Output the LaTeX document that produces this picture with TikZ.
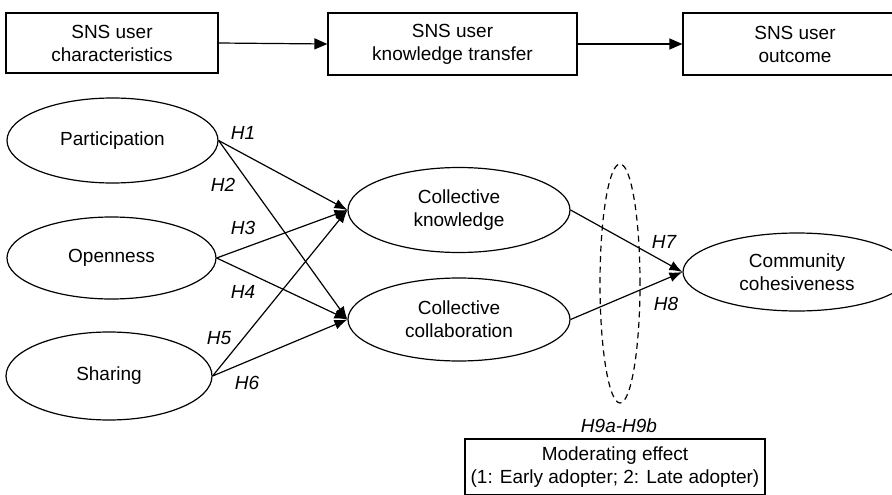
\documentclass[tikz,border=0pt]{standalone}
\usepackage{fontspec}
\setmainfont{Liberation Sans}
\usetikzlibrary{shapes.geometric,arrows.meta}
\begin{document}
\begin{tikzpicture}[x=1pt,y=-1pt,
  line width=1.2pt,
  txt/.style={font=\fontsize{19}{23}\selectfont, align=center},
  boxnode/.style={txt, draw, rectangle, inner sep=0pt},
  ellnode/.style={txt, draw, ellipse, inner sep=0pt},
  hlab/.style={font=\fontsize{19}{23}\selectfont\itshape, inner sep=0pt},
  toparrow/.style={-{Triangle[length=13pt,width=11pt]}},
  patharrow/.style={-{Latex[length=13pt,width=10pt]}}
]
\useasboundingbox (0,0) rectangle (892,495);
% top boxes
\node[boxnode, minimum width=212pt, minimum height=60pt] (b1) at (112,43) {SNS user\\characteristics};
\node[boxnode, minimum width=249pt, minimum height=62pt] (b2) at (452.5,44) {SNS user\\knowledge transfer};
\node[boxnode, minimum width=224pt, minimum height=62pt] (b3) at (795,44) {SNS user\\outcome};
\draw[toparrow] (b1.east) -- (b2.west);
\draw[toparrow] (b2.east) -- (b3.west);
% left ellipses
\node[ellnode, minimum width=211pt, minimum height=85pt] (par) at (112.5,140.5) {Participation};
\node[ellnode, minimum width=209pt, minimum height=82pt] (ope) at (111.5,258) {Openness};
\node[ellnode, minimum width=206pt, minimum height=88pt] (sha) at (109,376) {Sharing};
% middle ellipses
\node[ellnode, minimum width=222pt, minimum height=85pt] (ck) at (459,210) {Collective\\knowledge};
\node[ellnode, minimum width=222pt, minimum height=83pt] (cc) at (459,319.5) {Collective\\collaboration};
% right ellipse
\node[ellnode, minimum width=228pt, minimum height=78pt] (com) at (797,272) {Community\\cohesiveness};
% dashed moderating ellipse
\node[draw, dash pattern=on 6pt off 4.5pt, ellipse, minimum width=40pt, minimum height=239pt, inner sep=0pt] (mod) at (620,283.5) {};
% moderating box
\node[boxnode, minimum width=300pt, minimum height=56pt] (mbox) at (615,467) {Moderating effect\\(1: Early adopter; 2: Late adopter)};
% paths
\draw[patharrow] (par.east) -- (ck.west);
\draw[patharrow] (par.east) -- (cc.west);
\draw[patharrow] (ope.east) -- (ck.west);
\draw[patharrow] (ope.east) -- (cc.west);
\draw[patharrow] (sha.east) -- (ck.west);
\draw[patharrow] (sha.east) -- (cc.west);
\draw[patharrow] (ck.east) -- (com.west);
\draw[patharrow] (cc.east) -- (com.west);
% labels
\node[hlab] (h1) at (243,133) {H1};
\node[hlab] (h2) at (223,185) {H2};
\node[hlab] (h3) at (243,228) {H3};
\node[hlab] (h4) at (243,292) {H4};
\node[hlab] (h5) at (219,338) {H5};
\node[hlab] (h6) at (247,383) {H6};
\node[hlab] (h7) at (664,242) {H7};
\node[hlab] (h8) at (666,304) {H8};
\node[hlab] (h9) at (619,426) {H9a-H9b};
\end{tikzpicture}
\end{document}
